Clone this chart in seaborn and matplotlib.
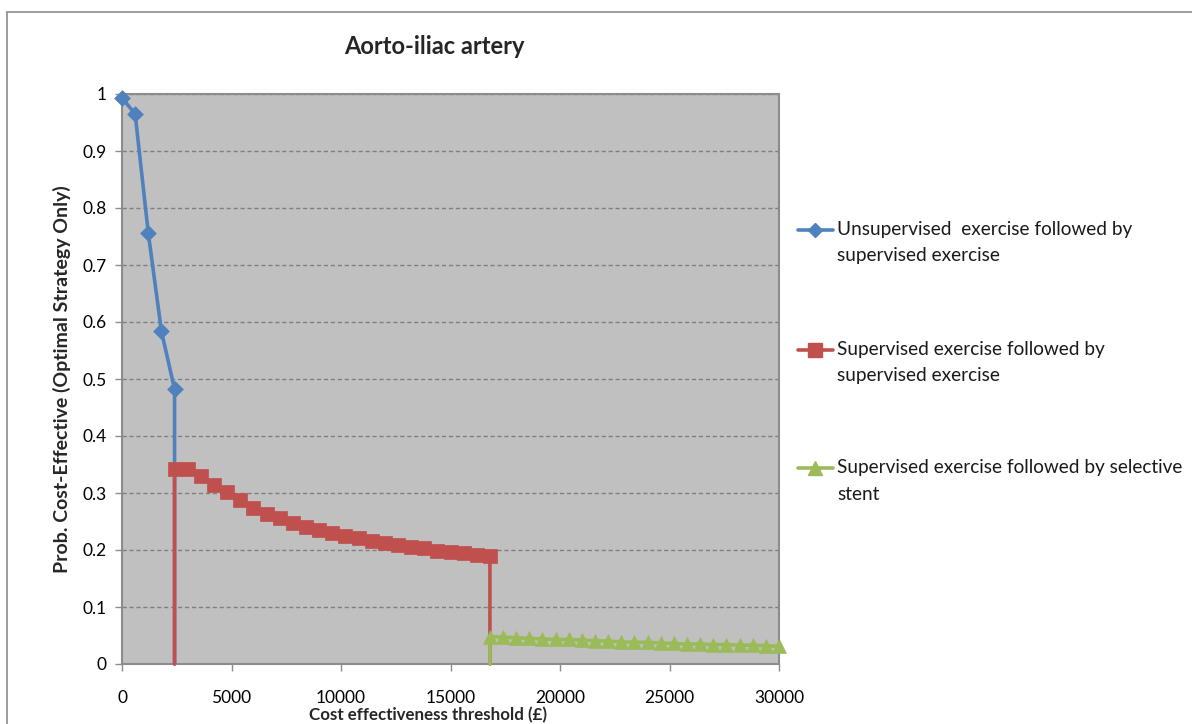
import numpy as np
import pandas as pd
import matplotlib
matplotlib.use("Agg")
import matplotlib.pyplot as plt
import seaborn as sns
from matplotlib.lines import Line2D
from matplotlib.patches import Rectangle

sns.set_theme(style="white")
plt.rcParams['font.family'] = ['Lato', 'DejaVu Sans']

# ---- data ----
blue_x = [0, 600, 1200, 1800, 2400]
blue_y = [0.993, 0.965, 0.756, 0.584, 0.482]

red_x = [2400 + 600 * i for i in range(25)]
red_y = [0.342, 0.342, 0.329, 0.314, 0.301, 0.287, 0.274, 0.264, 0.256, 0.248,
         0.241, 0.235, 0.230, 0.225, 0.221, 0.216, 0.212, 0.209, 0.206, 0.203,
         0.199, 0.196, 0.194, 0.192, 0.189]

green_x = [16800 + 600 * i for i in range(23)]
green_y = [0.048, 0.047, 0.046, 0.045, 0.044, 0.043, 0.043, 0.042, 0.041, 0.040,
           0.039, 0.038, 0.038, 0.037, 0.036, 0.035, 0.035, 0.034, 0.034, 0.033,
           0.033, 0.032, 0.031]

labels = [["Unsupervised  exercise followed by", "supervised exercise"],
          ["Supervised exercise followed by", "supervised exercise"],
          ["Supervised exercise followed by selective", "stent"]]
colors = ["#4F81BD", "#C0504D", "#9BBB59"]
markers = ["D", "s", "^"]
msizes = [8, 10, 10]

x_ticks = [0, 5000, 10000, 15000, 20000, 25000, 30000]
y_ticks = [0, 0.1, 0.2, 0.3, 0.4, 0.5, 0.6, 0.7, 0.8, 0.9, 1]
y_ticklabels = ["0", "0.1", "0.2", "0.3", "0.4", "0.5", "0.6", "0.7", "0.8", "0.9", "1"]

# ---- figure ----
W, H = 1192, 724
fig = plt.figure(figsize=(W / 100, H / 100), dpi=100)
fig.patch.set_facecolor("white")
fig.patches.append(Rectangle((7 / W, -0.05), 1.1, 1 - 12 / H + 0.05,
                             transform=fig.transFigure, fill=False,
                             edgecolor="#8C8C8C", linewidth=1.2))

ax = fig.add_axes([122 / W, 1 - 664 / H, (779 - 122) / W, (664 - 94) / H])
ax.set_facecolor("#C0C0C0")

series = [
    (blue_x + [blue_x[-1]], blue_y + [0.0]),
    ([red_x[0]] + red_x + [red_x[-1]], [0.0] + red_y + [0.0]),
    ([green_x[0]] + green_x, [0.0] + green_y),
]
mark_pts = [(blue_x, blue_y), (red_x, red_y), (green_x, green_y)]

for i, ((lx, ly), (mx, my)) in enumerate(zip(series, mark_pts)):
    df_line = pd.DataFrame({"x": lx, "y": ly})
    sns.lineplot(data=df_line, x="x", y="y", estimator=None, sort=False,
                 color=colors[i], linewidth=2.6, ax=ax, clip_on=False, zorder=3 + i)
    df_m = pd.DataFrame({"x": mx, "y": my})
    sns.scatterplot(data=df_m, x="x", y="y", marker=markers[i], s=msizes[i] ** 2,
                    color=colors[i], edgecolor=colors[i], linewidth=0.5,
                    ax=ax, clip_on=False, zorder=3 + i)

ax.set_xlim(0, 30000)
ax.set_ylim(0, 1)
ax.set_xticks(x_ticks)
ax.set_xticklabels([str(t) for t in x_ticks], fontsize=12.5)
ax.set_yticks(y_ticks)
ax.set_yticklabels(y_ticklabels, fontsize=12.5)
ax.yaxis.grid(True, linestyle=(0, (3, 2)), color="#7F7F7F", linewidth=1)
ax.xaxis.grid(False)
for s in ax.spines.values():
    s.set_color("#8C8C8C")
    s.set_linewidth(1.5)
ax.tick_params(axis="both", direction="out", length=5, width=1, color="#8C8C8C",
               left=True, bottom=True, pad=6, labelcolor="black")
ax.tick_params(axis="x", pad=14)

ax.set_xlabel("")
ax.set_ylabel("Prob. Cost-Effective (Optimal Strategy Only)", fontsize=14,
              fontweight="bold", labelpad=8)
fig.text(428 / W, 1 - 715 / H, "Cost effectiveness threshold (£)", fontsize=12.2,
         fontweight="bold", ha="center", va="center")
fig.text(434 / W, 1 - 47 / H, "Aorto-iliac artery", fontsize=17, fontweight="bold",
         ha="center", va="center")

# legend drawn manually (handle aligned with first text line)
leg_y = [230, 350, 468]
for c, m, ms, lab, yy in zip(colors, markers, msizes, labels, leg_y):
    yf = 1 - yy / H
    fig.add_artist(Line2D([798 / W, 833 / W], [yf, yf], color=c, linewidth=2.6,
                          transform=fig.transFigure))
    fig.add_artist(Line2D([815.5 / W], [yf], color=c, marker=m, markersize=ms * 0.95,
                          linewidth=0, transform=fig.transFigure))
    fig.text(837 / W, yf, lab[0], fontsize=13.7, ha="left", va="center", color="#1a1a1a")
    fig.text(837 / W, 1 - (yy + 26) / H, lab[1], fontsize=13.7, ha="left", va="center",
             color="#1a1a1a")

fig.savefig("out.png", dpi=100)
